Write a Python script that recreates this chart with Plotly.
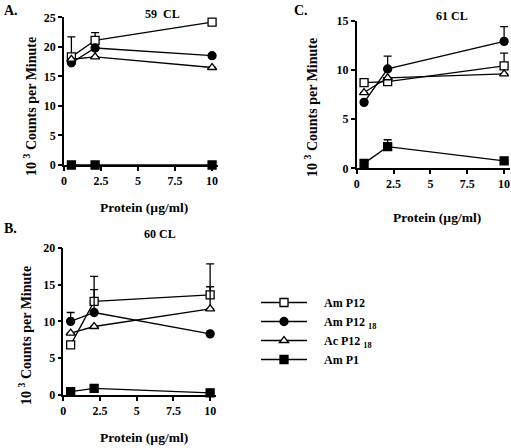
import plotly.graph_objects as go

# ---------------- data ----------------
protein = [0.5, 2.1, 10]
series_names = ["\u2002\u2002Am P12", "\u2002\u2002Am P12 <sub>18</sub>",
                "\u2002\u2002Ac P12 <sub>18</sub>", "\u2002\u2002Am P1"]

# Panel A: 59 CL
a_am_p12 = [18.3, 21.1, 24.2]
a_am_p12_18 = [17.3, 19.8, 18.5]
a_ac_p12_18 = [17.9, 18.3, 16.5]
a_am_p1 = [0.0, 0.0, 0.0]
a_err_am_p12 = [3.4, 1.3, 0]
a_err_am_p12_18 = [0, 0, 0]
a_err_ac_p12_18 = [0, 0, 0]
a_err_am_p1 = [0, 0, 0]

# Panel B: 60 CL
b_am_p12 = [6.8, 12.7, 13.6]
b_am_p12_18 = [10.0, 11.2, 8.3]
b_ac_p12_18 = [8.4, 9.3, 11.7]
b_am_p1 = [0.45, 0.9, 0.3]
b_err_am_p12 = [0, 3.4, 4.2]
b_err_am_p12_18 = [1.2, 3.1, 0]
b_err_ac_p12_18 = [0, 0, 3.0]
b_err_am_p1 = [0, 0, 0]

# Panel C: 61 CL
c_am_p12 = [8.7, 8.8, 10.4]
c_am_p12_18 = [6.7, 10.1, 12.9]
c_ac_p12_18 = [7.7, 9.2, 9.6]
c_am_p1 = [0.5, 2.2, 0.75]
c_err_am_p12 = [0, 0, 1.3]
c_err_am_p12_18 = [0, 1.3, 1.5]
c_err_ac_p12_18 = [0, 0, 0]
c_err_am_p1 = [0, 0.7, 0]

x_ticks = [0, 2.5, 5, 7.5, 10]
x_ticklabels = ["0", "2.5", "5", "7.5", "10"]

# ---------------- styling ----------------
FONT = "Liberation Serif"
styles = [
    dict(symbol="square", color="white", size=8),
    dict(symbol="circle", color="black", size=8),
    dict(symbol="triangle-up", color="white", size=8),
    dict(symbol="square", color="black", size=8),
]

fig = go.Figure()

panels = [
    ("x", "y", [a_am_p12, a_am_p12_18, a_ac_p12_18, a_am_p1],
     [a_err_am_p12, a_err_am_p12_18, a_err_ac_p12_18, a_err_am_p1], True),
    ("x2", "y2", [b_am_p12, b_am_p12_18, b_ac_p12_18, b_am_p1],
     [b_err_am_p12, b_err_am_p12_18, b_err_ac_p12_18, b_err_am_p1], False),
    ("x3", "y3", [c_am_p12, c_am_p12_18, c_ac_p12_18, c_am_p1],
     [c_err_am_p12, c_err_am_p12_18, c_err_ac_p12_18, c_err_am_p1], False),
]

for xa, ya, vals, errs, show in panels:
    for i in range(4):
        st = styles[i]
        fig.add_trace(go.Scatter(
            x=protein, y=vals[i], xaxis=xa, yaxis=ya,
            mode="lines+markers", name=series_names[i],
            showlegend=show, cliponaxis=False,
            line=dict(color="black", width=1.3),
            marker=dict(symbol=st["symbol"], size=st["size"], color=st["color"],
                        line=dict(color="black", width=1.3)),
            error_y=dict(type="data", symmetric=False, array=errs[i],
                         arrayminus=[0, 0, 0], color="black", thickness=1.3, width=4),
        ))

W, H = 511, 448

def xd(px0, px1):
    return [px0 / W, px1 / W]

def yd(top_px, bot_px):
    return [1 - bot_px / H, 1 - top_px / H]

axis_common = dict(
    showgrid=False, zeroline=False, showline=True, linecolor="black", linewidth=1.5,
    ticks="outside", ticklen=4, tickwidth=1.5, tickcolor="black", automargin=False,
    tickfont=dict(family=FONT, size=12, color="black", weight="bold"),
)

fig.update_layout(
    width=W, height=H, margin=dict(l=0, r=0, t=0, b=0, autoexpand=False),
    paper_bgcolor="white", plot_bgcolor="white",
    font=dict(family=FONT, color="black", weight="bold"),
    xaxis=dict(domain=xd(64, 218), range=[0, 10.4], anchor="y",
               tickvals=x_ticks, ticktext=x_ticklabels, **axis_common),
    yaxis=dict(domain=yd(17.3, 165), range=[0, 25], anchor="x",
               tickvals=[0, 5, 10, 15, 20, 25], **axis_common),
    xaxis2=dict(domain=xd(63.3, 216), range=[0, 10.4], anchor="y2",
                tickvals=x_ticks, ticktext=x_ticklabels, **axis_common),
    yaxis2=dict(domain=yd(247.7, 395), range=[0, 20], anchor="x2",
                tickvals=[0, 5, 10, 15, 20], **axis_common),
    xaxis3=dict(domain=xd(356.7, 510), range=[0, 10.4], anchor="y3",
                tickvals=x_ticks, ticktext=x_ticklabels, **axis_common),
    yaxis3=dict(domain=yd(20.7, 168.3), range=[0, 15], anchor="x3",
                tickvals=[0, 5, 10, 15], **axis_common),
    legend=dict(x=256 / W, y=1 - 288 / H, xanchor="left", yanchor="top",
                font=dict(family=FONT, size=12, color="black", weight="bold"),
                itemwidth=46, bgcolor="rgba(0,0,0,0)", traceorder="normal"),
)

def ann(text, x, y, size=13, angle=0):
    fig.add_annotation(text=text, x=x / W, y=1 - y / H, xref="paper", yref="paper",
                       showarrow=False, textangle=angle, xanchor="center", yanchor="middle",
                       font=dict(family=FONT, size=size, color="black", weight="bold"))

ann("A.", 11, 10, 14)
ann("B.", 10, 228, 14)
ann("C.", 301, 11, 14)
ann("59  CL", 162, 14, 12)
ann("60 CL", 160, 234, 12)
ann("61 CL", 452, 16, 12)
ytitle = "10 <sup>3</sup> Counts per Minute"
ann(ytitle, 30, 107, 14, -90)
ann(ytitle, 25, 336, 14, -90)
ann(ytitle, 311, 108, 14, -90)
ann("Protein (µg/ml)", 144, 207, 13.5)
ann("Protein (µg/ml)", 144, 437, 13.5)
ann("Protein (µg/ml)", 437, 218, 13.5)

fig.write_html("out.html", config={"displayModeBar": False},
               post_script="document.body.style.margin='0px';document.body.style.overflow='hidden';")
